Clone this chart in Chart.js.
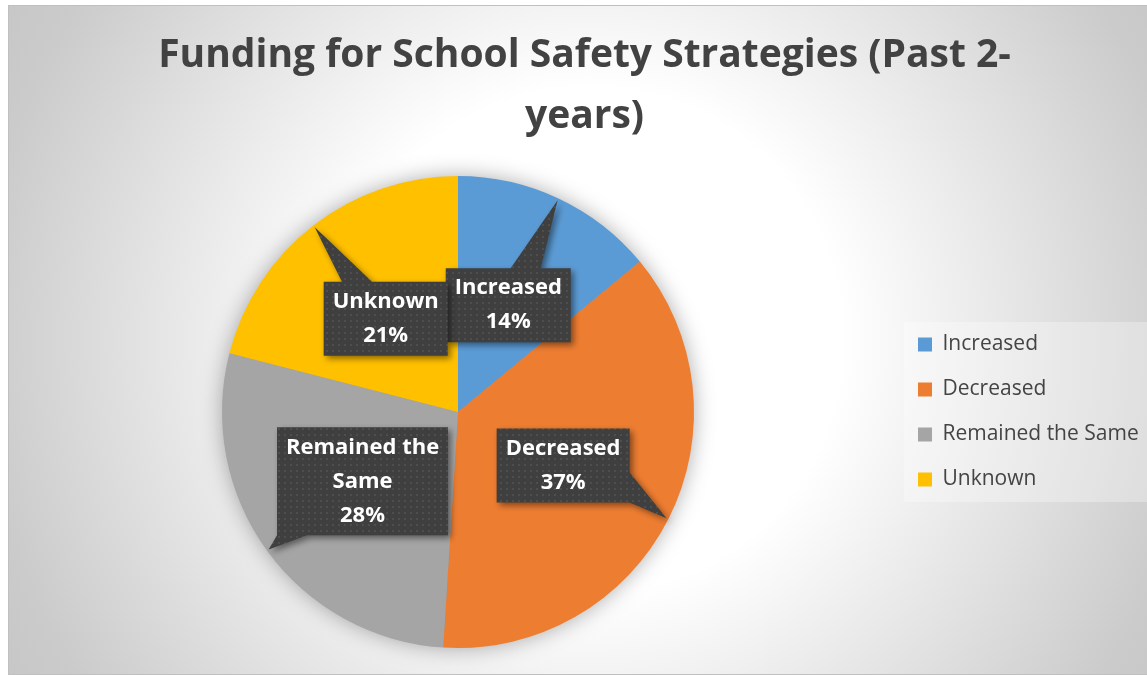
<!DOCTYPE html>
<html>
<head>
<meta charset="utf-8">
<script src="https://cdn.jsdelivr.net/npm/chart.js@4.4.1/dist/chart.umd.min.js"></script>
<style>
html, body { margin: 0; padding: 0; background: #fff; }
</style>
</head>
<body>
<canvas id="chartContainer" width="1147" height="675"></canvas>
<script>
// chart data
var categories = ['Increased', 'Decreased', 'Remained the Same', 'Unknown'];
var shareValues = [14, 37, 28, 21];
var sliceColours = ['#5B9BD5', '#ED7D31', '#A5A5A5', '#FFC000'];
var titleLines = ['Funding for School Safety Strategies (Past 2-', 'years)'];

var labelFont = 'bold 22px "Open Sans"';

// dotted dark fill used by the callouts
function makeDots(ctx) {
    var c = document.createElement('canvas');
    c.width = 6; c.height = 6;
    var p = c.getContext('2d');
    p.fillStyle = '#3f3f3f';
    p.fillRect(0, 0, 6, 6);
    p.fillStyle = '#4e4e4e';
    p.fillRect(2, 2, 2, 2);
    return ctx.createPattern(c, 'repeat');
}

function wrapWords(ctx, text, maxW) {
    var words = text.split(' ');
    var lines = [];
    var cur = '';
    for (var i = 0; i < words.length; i++) {
        var t = cur ? cur + ' ' + words[i] : words[i];
        if (ctx.measureText(t).width > maxW && cur) {
            lines.push(cur);
            cur = words[i];
        } else {
            cur = t;
        }
    }
    if (cur) lines.push(cur);
    return lines;
}

var backdrop = {
    id: 'backdrop',
    beforeDraw: function (chart) {
        var ctx = chart.ctx;
        ctx.save();
        var g = ctx.createRadialGradient(590, 340, 0, 590, 340, 720);
        g.addColorStop(0, '#ffffff');
        g.addColorStop(0.35, '#ffffff');
        g.addColorStop(0.85, '#cbcbcb');
        g.addColorStop(1, '#c4c4c4');
        ctx.fillStyle = g;
        ctx.fillRect(8, 5, 1139, 670);
        ctx.strokeStyle = '#c0c0c0';
        ctx.lineWidth = 1;
        ctx.strokeRect(8.5, 5.5, 1140, 669);

        // soft panel behind the legend
        var hb = chart.legend ? chart.legend.legendHitBoxes : [];
        if (hb && hb.length) {
            var first = hb[0], last = hb[hb.length - 1];
            var left = first.left - 14;
            ctx.fillStyle = 'rgba(255,255,255,0.3)';
            ctx.fillRect(left, first.top - 12, chart.width - left, last.top + last.height - first.top + 24);
        }
        ctx.restore();
    },
    beforeDatasetsDraw: function (chart) {
        var arc = chart.getDatasetMeta(0).data[0];
        if (!arc) return;
        var ctx = chart.ctx;
        ctx.save();
        ctx.shadowColor = 'rgba(0,0,0,0.35)';
        ctx.shadowBlur = 22;
        ctx.fillStyle = '#999';
        ctx.beginPath();
        ctx.arc(arc.x, arc.y, arc.outerRadius - 1, 0, Math.PI * 2);
        ctx.fill();
        ctx.restore();
    }
};

var callouts = {
    id: 'callouts',
    afterDatasetsDraw: function (chart) {
        var ctx = chart.ctx;
        var meta = chart.getDatasetMeta(0);
        var vals = chart.data.datasets[0].data;
        var total = vals.reduce(function (a, b) { return a + b; }, 0);
        var dots = makeDots(ctx);
        ctx.save();
        ctx.font = labelFont;
        meta.data.forEach(function (arc, i) {
            var p = arc.getProps(['x', 'y', 'startAngle', 'endAngle', 'outerRadius'], true);
            var mid = (p.startAngle + p.endAngle) / 2;
            var cx = p.x + Math.cos(mid) * p.outerRadius * 0.5;
            var cy = p.y + Math.sin(mid) * p.outerRadius * 0.5;
            var tx = p.x + Math.cos(mid) * (p.outerRadius - 2);
            var ty = p.y + Math.sin(mid) * (p.outerRadius - 2);

            var lines = wrapWords(ctx, chart.data.labels[i], 165);
            lines.push(Math.round(vals[i] / total * 100) + '%');
            var w = 0;
            lines.forEach(function (l) { w = Math.max(w, ctx.measureText(l).width); });
            var bw = Math.round(w + 18), lh = 34, bh = lines.length * lh + 6;
            var bx = cx - bw / 2, by = cy - bh / 2;

            // wedge base on the edge facing the tip
            var dx = tx - cx, dy = ty - cy, half = 15, a, b;
            if (Math.abs(dy) / (bh / 2) > Math.abs(dx) / (bw / 2)) {
                var ey = dy < 0 ? by : by + bh;
                var ix = cx + dx * (bh / 2) / Math.abs(dy);
                ix = Math.min(Math.max(ix, bx + half), bx + bw - half);
                a = [ix - half, ey]; b = [ix + half, ey];
            } else {
                var ex = dx < 0 ? bx : bx + bw;
                var iy = cy + dy * (bw / 2) / Math.abs(dx);
                iy = Math.min(Math.max(iy, by + half), by + bh - half);
                a = [ex, iy - half]; b = [ex, iy + half];
            }

            ctx.save();
            ctx.shadowColor = 'rgba(0,0,0,0.45)';
            ctx.shadowBlur = 6;
            ctx.shadowOffsetX = 3;
            ctx.shadowOffsetY = 3;
            ctx.fillStyle = dots;
            ctx.beginPath();
            ctx.rect(bx, by, bw, bh);
            ctx.moveTo(a[0], a[1]);
            ctx.lineTo(tx, ty);
            ctx.lineTo(b[0], b[1]);
            ctx.closePath();
            ctx.fill();
            ctx.restore();

            ctx.fillStyle = '#ffffff';
            ctx.textAlign = 'center';
            ctx.textBaseline = 'middle';
            lines.forEach(function (l, k) {
                ctx.fillText(l, cx, by + 3 + lh / 2 + k * lh);
            });
        });
        ctx.restore();
    }
};

var myPieChart = new Chart('chartContainer', {
    type: 'pie',
    data: {
        labels: categories,
        datasets: [{
            data: shareValues,
            backgroundColor: sliceColours,
            borderWidth: 0,
            hoverBorderWidth: 0,
            hoverOffset: 0
        }]
    },
    options: {
        responsive: false,
        animation: false,
        events: [],
        layout: {
            padding: { left: 22, right: 0, top: 0, bottom: 27 }
        },
        plugins: {
            title: {
                display: true,
                text: titleLines,
                color: '#424242',
                font: { family: '"Open Sans"', size: 39, weight: 'bold', lineHeight: 1.564 },
                padding: { top: 25.5, bottom: 28.5 }
            },
            legend: {
                display: true,
                position: 'right',
                fullSize: false,
                maxWidth: 253,
                labels: {
                    boxWidth: 14,
                    boxHeight: 14,
                    padding: 24,
                    color: '#444444',
                    font: { family: '"Open Sans"', size: 21 }
                }
            },
            tooltip: { enabled: false }
        }
    },
    plugins: [backdrop, callouts]
});
</script>
</body>
</html>
